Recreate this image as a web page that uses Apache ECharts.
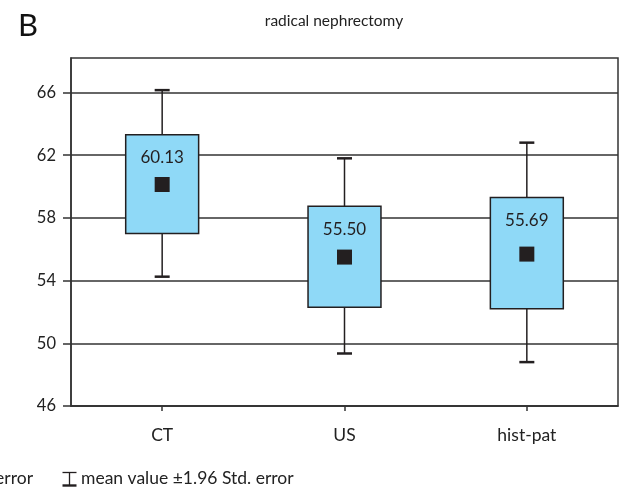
<!DOCTYPE html>
<html>
<head>
<meta charset="utf-8">
<script src="https://cdn.jsdelivr.net/npm/echarts@6/dist/echarts.min.js"></script>
<style>html,body{margin:0;padding:0;background:#fff}#c{width:624px;height:488px}</style>
</head>
<body>
<div id="c"></div>
<script>
const categories = ['CT', 'US', 'hist-pat'];
const lowWhisker = [54.25, 49.35, 48.8];
const boxLow = [57.0, 52.3, 52.2];
const means = [60.13, 55.50, 55.69];
const boxHigh = [63.3, 58.75, 59.3];
const highWhisker = [66.15, 61.8, 62.8];
const meanLabels = ['60.13', '55.50', '55.69'];
const yTicks = [46, 50, 54, 58, 62, 66];

const FONT = 'Lato';
const INK = '#231f20';
const data = categories.map((c, i) => [i, lowWhisker[i], boxLow[i], means[i], boxHigh[i], highWhisker[i]]);

const chart = echarts.init(document.getElementById('c'));
chart.setOption({
  animation: false,
  title: {
    text: 'radical nephrectomy', left: 329, top: 8, textAlign: 'center',
    textStyle: { fontFamily: FONT, fontSize: 15.5, fontWeight: 'normal', color: '#222' }
  },
  grid: { left: 71, right: 6, top: 58, bottom: 82, show: true, borderColor: '#333', borderWidth: 1.5, backgroundColor: 'transparent' },
  xAxis: {
    type: 'category', data: categories,
    axisLine: { lineStyle: { color: '#333', width: 1.5 } },
    axisTick: { show: true, alignWithLabel: true, length: 5, lineStyle: { color: '#333', width: 1.5 } },
    axisLabel: { fontFamily: FONT, fontSize: 17.5, color: '#222', margin: 20 }
  },
  yAxis: {
    type: 'value', min: 46, max: 68.2,
    axisLine: { show: true, lineStyle: { color: '#333', width: 1.5 } },
    axisTick: { show: true, length: 8, customValues: yTicks, lineStyle: { color: '#333', width: 1.5 } },
    axisLabel: { fontFamily: FONT, fontSize: 16.5, color: '#222', margin: 15, customValues: yTicks },
    splitLine: { show: true, lineStyle: { color: '#333', width: 1.5 } }
  },
  series: [{
    type: 'custom',
    data: data,
    encode: { x: 0, y: [1, 2, 3, 4, 5] },
    renderItem: function (params, api) {
      const x = api.value(0);
      const lo = api.coord([x, api.value(1)]);
      const q1 = api.coord([x, api.value(2)]);
      const m = api.coord([x, api.value(3)]);
      const q3 = api.coord([x, api.value(4)]);
      const hi = api.coord([x, api.value(5)]);
      const bw = api.size([1, 0])[0] * 0.4;
      const cx = m[0];
      const cap = 7.5;
      const ls = { stroke: INK, lineWidth: 1.5 };
      return {
        type: 'group',
        children: [
          { type: 'line', shape: { x1: cx, y1: hi[1], x2: cx, y2: q3[1] }, style: ls },
          { type: 'line', shape: { x1: cx, y1: q1[1], x2: cx, y2: lo[1] }, style: ls },
          { type: 'line', shape: { x1: cx - cap, y1: hi[1], x2: cx + cap, y2: hi[1] }, style: { stroke: INK, lineWidth: 2.5 } },
          { type: 'line', shape: { x1: cx - cap, y1: lo[1], x2: cx + cap, y2: lo[1] }, style: { stroke: INK, lineWidth: 2.5 } },
          { type: 'rect', shape: { x: cx - bw / 2, y: q3[1], width: bw, height: q1[1] - q3[1] }, style: { fill: '#8fd9f7', stroke: INK, lineWidth: 1.5 } },
          { type: 'rect', shape: { x: cx - 7.5, y: m[1] - 7.5, width: 15, height: 15 }, style: { fill: INK } },
          { type: 'text', x: cx, y: q3[1] + 23, style: { text: meanLabels[params.dataIndex], fontFamily: FONT, fontSize: 17, fill: INK, align: 'center', verticalAlign: 'middle' } }
        ]
      };
    }
  }],
  graphic: [
    { type: 'text', left: 18, top: 10, style: { text: 'B', fontFamily: FONT, fontSize: 31, fill: '#111' } },
    { type: 'text', x: 33, y: 478, style: { text: '\u25A1 mean value \u00B11 Std. error', fontFamily: FONT, fontSize: 17.5, fill: '#222', align: 'right', verticalAlign: 'middle' } },
    { type: 'group', x: 69.5, y: 479, children: [
      { type: 'line', shape: { x1: 0, y1: -6.5, x2: 0, y2: 6.5 }, style: { stroke: INK, lineWidth: 1.3 } },
      { type: 'line', shape: { x1: -7, y1: -6.5, x2: 7, y2: -6.5 }, style: { stroke: INK, lineWidth: 1.3 } },
      { type: 'line', shape: { x1: -7, y1: 6.5, x2: 7, y2: 6.5 }, style: { stroke: INK, lineWidth: 2.4 } }
    ] },
    { type: 'text', x: 81, y: 478, style: { text: 'mean value \u00B11.96 Std. error', fontFamily: FONT, fontSize: 17.5, fill: '#222', align: 'left', verticalAlign: 'middle' } }
  ]
});
</script>
</body>
</html>
